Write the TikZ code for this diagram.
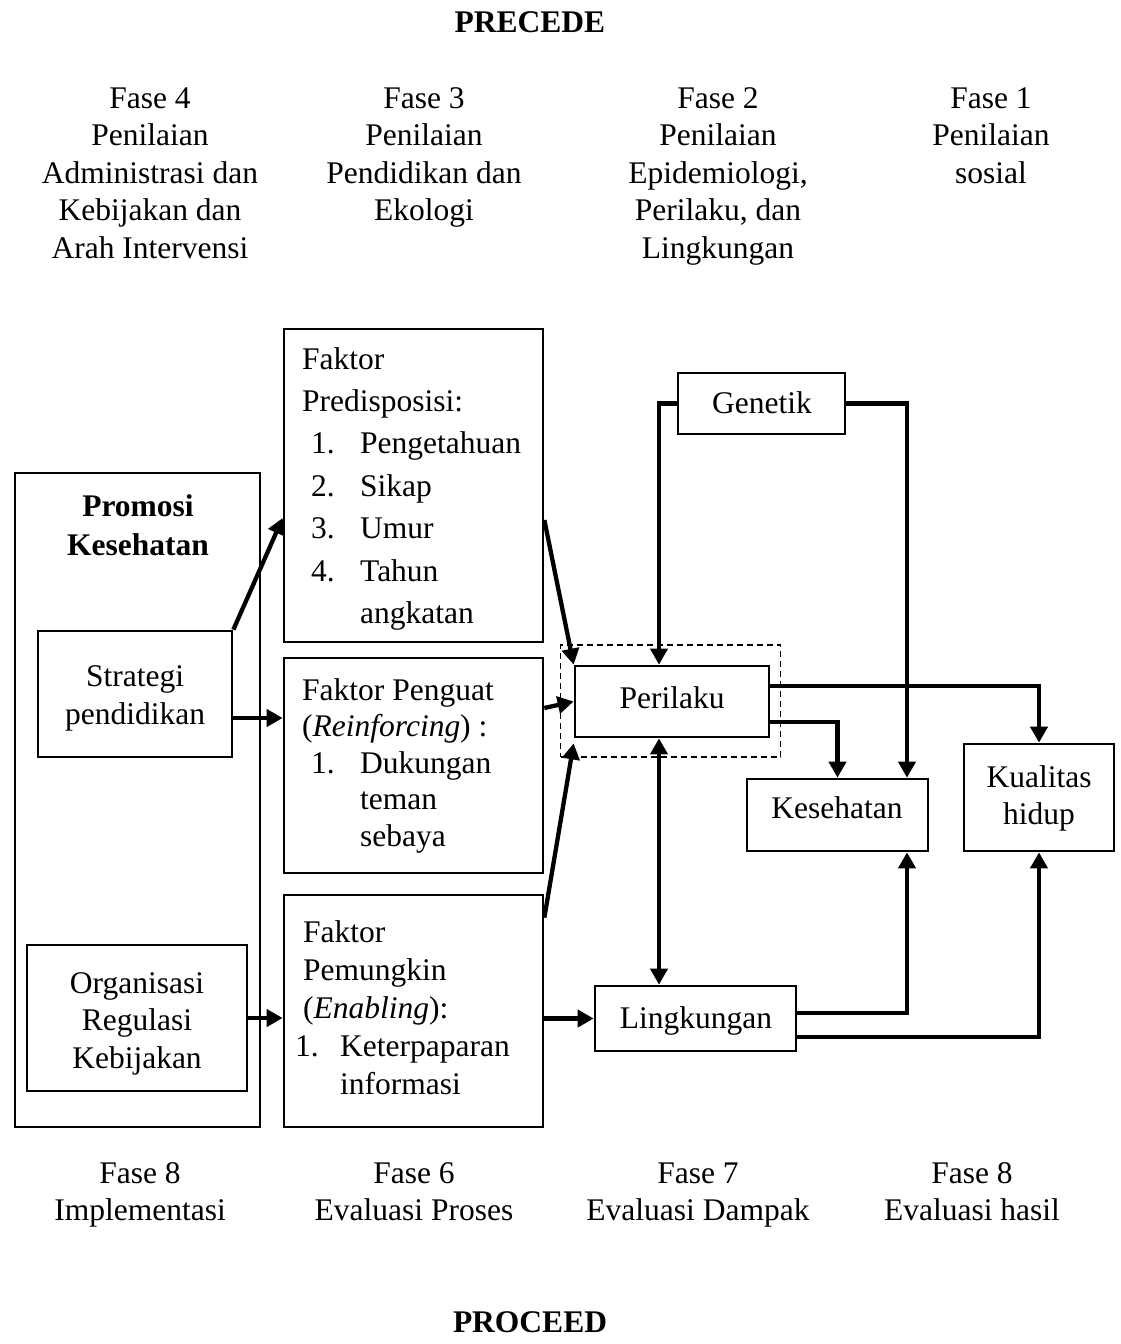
\documentclass[tikz,border=0pt]{standalone}
\usepackage{fontspec}
\setmainfont{Liberation Serif}
\usetikzlibrary{arrows.meta,calc}
\begin{document}
\begin{tikzpicture}[x=1pt,y=-1pt,
  every node/.style={font=\fontsize{31.5}{37.5}\selectfont},
  box/.style={draw, line width=2.7pt, inner sep=0pt},
  dbox/.style={draw, line width=1.6pt, dash pattern=on 6pt off 4pt, inner sep=0pt},
  txt/.style={anchor=base, inner sep=0pt},
  ltxt/.style={anchor=base west, inner sep=0pt},
  arr/.style={line width=4.3pt, -{Triangle[length=16pt,width=17pt]}},
  darr/.style={line width=4.3pt, {Triangle[length=16pt,width=17pt]}-{Triangle[length=16pt,width=17pt]}}
]
\useasboundingbox (0,0) rectangle (1120,1344);

% titles
\node[txt] (precede) at (530,32) {\textbf{PRECEDE}};
\node[txt] (proceed) at (530,1332) {\textbf{PROCEED}};

% header phases
\node[txt] (h4) at (150,108) {\begin{tabular}[t]{@{}c@{}}Fase 4\\Penilaian\\Administrasi dan\\Kebijakan dan\\Arah Intervensi\end{tabular}};
\node[txt] (h3) at (424,108) {\begin{tabular}[t]{@{}c@{}}Fase 3\\Penilaian\\Pendidikan dan\\Ekologi\end{tabular}};
\node[txt] (h2) at (718,108) {\begin{tabular}[t]{@{}c@{}}Fase 2\\Penilaian\\Epidemiologi,\\Perilaku, dan\\Lingkungan\end{tabular}};
\node[txt] (h1) at (991,108) {\begin{tabular}[t]{@{}c@{}}Fase 1\\Penilaian\\sosial\end{tabular}};

% bottom phases
\node[txt] (b8a) at (140,1183) {\begin{tabular}[t]{@{}c@{}}Fase 8\\Implementasi\end{tabular}};
\node[txt] (b6) at (414,1183) {\begin{tabular}[t]{@{}c@{}}Fase 6\\Evaluasi Proses\end{tabular}};
\node[txt] (b7) at (698,1183) {\begin{tabular}[t]{@{}c@{}}Fase 7\\Evaluasi Dampak\end{tabular}};
\node[txt] (b8b) at (972,1183) {\begin{tabular}[t]{@{}c@{}}Fase 8\\Evaluasi hasil\end{tabular}};

% boxes
\node[box, minimum width=245pt, minimum height=654pt] (promo) at (137.5,800) {};
\node[box, minimum width=194pt, minimum height=126pt] (strat) at (135,694) {};
\node[box, minimum width=220pt, minimum height=146pt] (org) at (137,1018) {};
\node[box, minimum width=259pt, minimum height=313pt] (pred) at (413.5,485.5) {};
\node[box, minimum width=259pt, minimum height=215pt] (peng) at (413.5,765.5) {};
\node[box, minimum width=259pt, minimum height=232pt] (pem) at (413.5,1011) {};
\node[box, minimum width=167pt, minimum height=61pt] (gen) at (761.5,403.5) {};
\node[box, minimum width=194pt, minimum height=71pt] (per) at (672,701.5) {};
\node[dbox, minimum width=220pt, minimum height=112pt] (dash) at (670.5,701) {};
\node[box, minimum width=181pt, minimum height=72pt] (kes) at (837.5,815) {};
\node[box, minimum width=150pt, minimum height=107pt] (kual) at (1039,797.5) {};
\node[box, minimum width=201pt, minimum height=65pt] (ling) at (695.5,1018.5) {};

% box texts
\node[txt, font=\fontsize{31.5}{39}\selectfont\bfseries] (promot) at (138,516) {\begin{tabular}[t]{@{}c@{}}Promosi\\Kesehatan\end{tabular}};
\node[txt, font=\fontsize{31.5}{38}\selectfont] (stratt) at (135,686) {\begin{tabular}[t]{@{}c@{}}Strategi\\pendidikan\end{tabular}};
\node[txt, font=\fontsize{31.5}{37.5}\selectfont] (orgt) at (137,993) {\begin{tabular}[t]{@{}c@{}}Organisasi\\Regulasi\\Kebijakan\end{tabular}};
\node[ltxt, font=\fontsize{31.5}{42.4}\selectfont] (predt) at (302,369) {\begin{tabular}[t]{@{}l@{}}Faktor\\Predisposisi:\\
\hspace{9pt}\makebox[49pt][l]{1.}Pengetahuan\\
\hspace{9pt}\makebox[49pt][l]{2.}Sikap\\
\hspace{9pt}\makebox[49pt][l]{3.}Umur\\
\hspace{9pt}\makebox[49pt][l]{4.}Tahun\\
\hspace{58pt}angkatan\end{tabular}};
\node[ltxt, font=\fontsize{31.5}{36.5}\selectfont] (pengt) at (302,700) {\begin{tabular}[t]{@{}l@{}}Faktor Penguat\\(\textit{Reinforcing}) :\\
\hspace{9pt}\makebox[49pt][l]{1.}Dukungan\\
\hspace{58pt}teman\\
\hspace{58pt}sebaya\end{tabular}};
\node[ltxt, font=\fontsize{31.5}{38}\selectfont] (pemt) at (295,942) {\begin{tabular}[t]{@{}l@{}}\hspace{8pt}Faktor\\\hspace{8pt}Pemungkin\\\hspace{8pt}(\textit{Enabling}):\\
\makebox[45pt][l]{1.}Keterpaparan\\
\hspace{45pt}informasi\end{tabular}};
\node[txt] (gent) at (762,413) {Genetik};
\node[txt] (pert) at (672,708) {Perilaku};
\node[txt] (kest) at (837,818) {Kesehatan};
\node[txt, font=\fontsize{31.5}{37}\selectfont] (kualt) at (1039,787) {\begin{tabular}[t]{@{}c@{}}Kualitas\\hidup\end{tabular}};
\node[txt] (lingt) at (696,1028) {Lingkungan};

% connectors
\draw[arr] (strat.north east) -- ($(pred.west)+(0,32.5)$);
\draw[arr] ($(strat.east)+(0,24)$) coordinate (s2) -- (peng.west |- s2);
\draw[arr] (org.east) -- (pem.west |- org.east);
\draw[arr] ($(pred.east)+(0,34.5)$) -- (per.north west);
\draw[arr] ($(peng.east)+(0,-57.5)$) -- (per.west);
\draw[arr] ($(pem.north east)+(0,24)$) -- ($(per.south west)+(0,5)$);
\draw[arr] (gen.west) -| ($(per.north)+(-13,0)$);
\draw[arr] (gen.east) -| ($(kes.north)+(69.5,0)$);
\draw[arr] ($(per.east)+(0,-15.5)$) -| (kual.north);
\draw[arr] ($(per.east)+(0,20.5)$) -| (kes.north);
\draw[darr] ($(per.south)+(-13,0)$) coordinate (pl) -- (pl |- ling.north);
\draw[arr] (ling.west -| pem.east) -- (ling.west);
\draw[arr] ($(ling.east)+(0,-5.5)$) -| ($(kes.south)+(69.5,0)$);
\draw[arr] ($(ling.east)+(0,18.5)$) -| (kual.south);
\end{tikzpicture}
\end{document}
